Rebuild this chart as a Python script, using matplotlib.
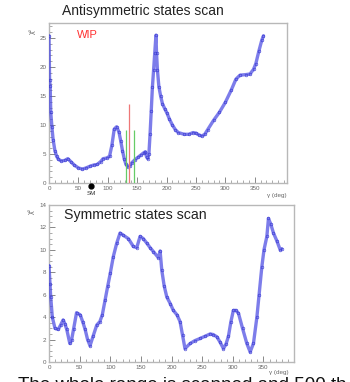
import matplotlib
matplotlib.use("Agg")
import matplotlib.pyplot as plt
import matplotlib.ticker as ticker
import matplotlib.transforms as mtransforms

# chi2 scans
ANTI_GAMMA = [0, 1, 2, 3, 5, 7, 10, 13, 16, 21, 27, 32, 37, 43, 50, 57, 63, 70,
              76, 82, 88, 92, 98, 103, 107, 111, 115, 119, 122, 125, 128, 131,
              134, 137, 141, 146, 151, 156, 161, 164, 166, 168, 170, 172, 174,
              176, 178, 180, 182, 183, 184.5, 187, 190, 193, 197, 201, 205, 210,
              215, 220, 230, 238, 245, 250, 255, 260, 265, 270, 280, 290, 300,
              310, 318, 325, 335, 342, 348, 352, 357, 362, 365]
ANTI_CHI2 = [25.4, 17.8, 16.7, 12.2, 9.6, 7.5, 5.6, 4.6, 4.1, 3.8, 3.9, 4.2, 3.7,
             3.1, 2.6, 2.4, 2.6, 2.9, 3.1, 3.2, 3.7, 4.2, 4.3, 4.6, 6.5, 9.3, 9.7,
             8.8, 7.3, 5.6, 4.2, 3.2, 2.8, 2.9, 3.5, 4.0, 4.4, 4.8, 5.2, 5.4, 4.5,
             4.2, 5.0, 8.5, 12.5, 16.6, 19.5, 22.5, 25.5, 22.4, 19.5, 16.6, 15.0,
             13.7, 12.8, 12.0, 11.0, 10.0, 9.2, 8.7, 8.4, 8.4, 8.7, 8.6, 8.3, 8.1,
             8.4, 9.2, 10.8, 12.2, 13.9, 16.0, 17.9, 18.6, 18.7, 18.8, 19.6, 20.6,
             22.7, 24.6, 25.4]

SYM_GAMMA = [0, 1.6, 2.8, 5.4, 9.8, 15, 19, 23, 26, 29, 34, 37, 40, 45, 51, 55,
             59, 63, 67, 72, 78, 83, 87, 91.5, 96, 100, 105, 110.6, 116, 121.4,
             129.6, 137.7, 143.3, 148.7, 154, 159.6, 165, 170.4, 178.6, 181.4,
             184.1, 188, 192.3, 198, 203, 209, 214, 218, 222, 230.4, 238, 246.7,
             255, 263, 268, 274, 279, 284.8, 289, 293, 297, 301, 305, 309.3, 316,
             323, 328.4, 333.8, 339.4, 343, 347.5, 351, 355.7, 358.3, 362, 366.5,
             372, 377.5, 380]
SYM_CHI2 = [8.6, 7.0, 5.8, 4.0, 3.0, 2.9, 3.3, 3.75, 3.4, 2.9, 1.65, 2.0, 2.9,
            4.4, 4.2, 3.6, 2.9, 2.0, 1.45, 2.3, 3.3, 3.6, 4.2, 5.5, 6.8, 7.9, 9.4,
            10.6, 11.5, 11.3, 11.0, 10.3, 10.2, 11.2, 11.0, 10.6, 10.2, 9.85, 9.3,
            9.9, 8.2, 6.8, 5.8, 5.2, 4.6, 4.2, 3.6, 2.4, 1.2, 1.65, 1.9, 2.1,
            2.3, 2.5, 2.45, 2.25, 1.8, 1.2, 1.6, 2.3, 3.6, 4.6, 4.6, 4.35, 3.0,
            1.65, 0.9, 1.65, 4.0, 6.0, 8.5, 10.0, 11.2, 12.8, 12.3, 11.5, 10.8,
            10.0, 10.1]

SM_GAMMA = 72
RED_GAMMA, RED_TOP = 136.5, 13.7
GREEN_GAMMA, GREEN_TOP = [131, 145], 9.1

BLUE = '#4646e2'
FRAME = '#b8b8b8'
LABEL = '#666666'

plt.rcParams['font.family'] = ['Liberation Sans', 'DejaVu Sans']


def root_axes(ax, xmax, ymax, ymajor, yminor):
    ax.set_xlim(0, xmax)
    ax.set_ylim(0, ymax)
    for sp in ax.spines.values():
        sp.set_color(FRAME)
        sp.set_linewidth(1.0)
    ax.xaxis.set_major_locator(ticker.FixedLocator([0, 50, 100, 150, 200, 250, 300, 350]))
    ax.xaxis.set_minor_locator(ticker.MultipleLocator(10))
    ax.yaxis.set_major_locator(ticker.MultipleLocator(ymajor))
    ax.yaxis.set_minor_locator(ticker.MultipleLocator(yminor))
    ax.tick_params(which='both', direction='in', color='#888888', labelcolor=LABEL,
                   labelsize=4.5, pad=2)
    ax.tick_params(which='major', length=4, width=0.7)
    ax.tick_params(which='minor', length=2, width=0.5)


def draw_scan(ax, x, y):
    ax.plot(x, y, color=BLUE, lw=2.4, alpha=0.7, solid_joinstyle='round',
            solid_capstyle='round', zorder=3)
    ax.plot(x, y, ls='none', marker='o', ms=1.9, mfc='none', mec='#3030d0',
            mew=0.5, alpha=0.8, zorder=4)


fig = plt.figure(figsize=(3.5, 3.82), dpi=100)
fig.patch.set_facecolor('white')

# antisymmetric panel
ax1 = fig.add_axes([49 / 350, 1 - 183 / 382, 238 / 350, 160 / 382])
root_axes(ax1, 405, 27.6, 5, 1)
draw_scan(ax1, ANTI_GAMMA, ANTI_CHI2)
ax1.vlines(GREEN_GAMMA, 0, GREEN_TOP, color='#66cc66', lw=0.9, zorder=5)
ax1.vlines(RED_GAMMA, 0, RED_TOP, color='#ee7777', lw=0.9, zorder=5)
ax1.text(0.118, 0.925, 'WIP', color='#ff3030', fontsize=8, transform=ax1.transAxes,
         ha='left', va='center')
trans = mtransforms.blended_transform_factory(ax1.transData, ax1.transAxes)
ax1.plot([SM_GAMMA], [-0.02], marker='o', ms=3.5, color='black', transform=trans,
         clip_on=False, zorder=6)
ax1.text(SM_GAMMA, -0.065, 'SM', fontsize=4.5, color='#333333', transform=trans,
         ha='center', va='center')
ax1.text(1.0, -0.06, 'γ (deg)', fontsize=4.5, color=LABEL, transform=ax1.transAxes,
         ha='right', va='top')
ax1.text(-0.07, 0.97, 'χ²', fontsize=5, color=LABEL, rotation=90,
         transform=ax1.transAxes, ha='center', va='top')
fig.text(143 / 350, 1 - 11 / 382, 'Antisymmetric states scan', fontsize=10,
         ha='center', va='center', color='#222222')

# symmetric panel
ax2 = fig.add_axes([49 / 350, 1 - 362 / 382, 245 / 350, 157 / 382])
root_axes(ax2, 400, 14, 2, 0.5)
draw_scan(ax2, SYM_GAMMA, SYM_CHI2)
ax2.text(0.061, 0.936, 'Symmetric states scan', fontsize=10.2, color='#222222',
         transform=ax2.transAxes, ha='left', va='center')
ax2.text(0.98, -0.05, 'γ (deg)', fontsize=4.5, color=LABEL, transform=ax2.transAxes,
         ha='right', va='top')
ax2.text(-0.07, 0.98, 'χ²', fontsize=5, color=LABEL, rotation=90,
         transform=ax2.transAxes, ha='center', va='top')

# slide text running off the bottom edge
fig.text(18 / 350, 1 - 376.5 / 382, 'The whole range is scanned and 500 th',
         fontsize=13.5, ha='left', va='top', color='#111111')

fig.savefig('out.png', dpi=100, facecolor='white')
